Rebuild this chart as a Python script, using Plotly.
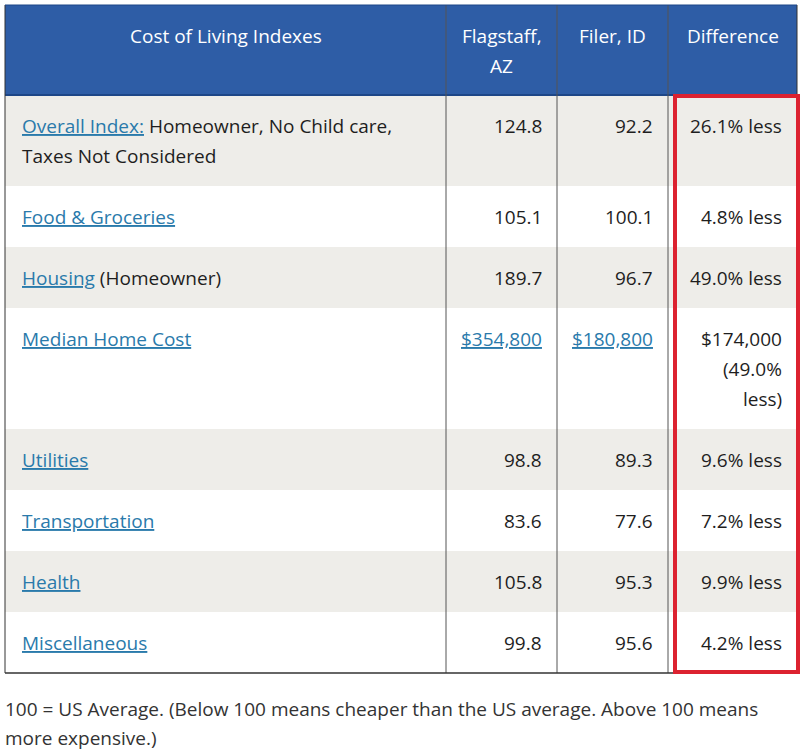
import plotly.graph_objects as go

# table content
headers = ["Cost of Living Indexes", "Flagstaff,<br>AZ", "Filer, ID", "Difference"]
categories = ["Overall Index:", "Food & Groceries", "Housing", "Median Home Cost",
              "Utilities", "Transportation", "Health", "Miscellaneous"]
notes = [" Homeowner, No Child care,<br>Taxes Not Considered", "", " (Homeowner)", "",
         "", "", "", ""]
flagstaff = ["124.8", "105.1", "189.7", "$354,800", "98.8", "83.6", "105.8", "99.8"]
filer = ["92.2", "100.1", "96.7", "$180,800", "89.3", "77.6", "95.3", "95.6"]
difference = ["26.1% less", "4.8% less", "49.0% less", "$174,000<br>(49.0%<br>less)",
              "9.6% less", "7.2% less", "9.9% less", "4.2% less"]
value_links = [False, False, False, True, False, False, False, False]
footnote = ["100 = US Average. (Below 100 means cheaper than the US average. Above 100 means",
            "more expensive.)"]

# styling
W, H = 805, 751
FONT = "Open Sans"
FS = 19
LINE_H = 30
TOP_OFF = 31
col_widths = [441, 111, 111, 129]
left0, top0 = 5, 5
PAD_L, PAD_R = 15, 13
HEAD_BG = "#2e5da6"
GREY_BG = "#eeede9"
LINK = "#2a7aab"
TEXT = "#1e1e1e"
GRID = "#555555"
RED = "#dc2230"

col_edges = [left0]
for w in col_widths:
    col_edges.append(col_edges[-1] + w)

fig = go.Figure()
shapes = []
annos = []


def link(s):
    return f"<span style='color:{LINK}'><u>{s}</u></span>"


def add_line(txt, col, y, align, color=TEXT):
    if align == "left":
        x, anchor = col_edges[col] + PAD_L, "left"
    elif align == "right":
        x, anchor = col_edges[col + 1] - PAD_R, "right"
    else:
        x, anchor = (col_edges[col] + col_edges[col + 1]) / 2, "center"
    annos.append(dict(x=x, y=y, xref="x", yref="y", text=txt, showarrow=False,
                      xanchor=anchor, yanchor="middle",
                      font=dict(family=FONT, size=FS, color=color)))


# header
head_lines = [h.split("<br>") for h in headers]
head_h = max(len(l) for l in head_lines) * LINE_H + 30
shapes.append(dict(type="rect", x0=col_edges[0], x1=col_edges[-1], y0=top0, y1=top0 + head_h,
                   fillcolor=HEAD_BG, line=dict(width=0), layer="below"))
for c, lines in enumerate(head_lines):
    for i, t in enumerate(lines):
        add_line(t, c, top0 + TOP_OFF + i * LINE_H, "center", "white")

# body
y = top0 + head_h
for r in range(len(categories)):
    first = (categories[r] + notes[r]).split("<br>")
    cells = [first, flagstaff[r].split("<br>"), filer[r].split("<br>"), difference[r].split("<br>")]
    n = max(len(c) for c in cells)
    rh = n * LINE_H + 31
    shapes.append(dict(type="rect", x0=col_edges[0], x1=col_edges[-1], y0=y, y1=y + rh,
                       fillcolor=GREY_BG if r % 2 == 0 else "white",
                       line=dict(width=0), layer="below"))
    for i, t in enumerate(first):
        if i == 0:
            t = link(categories[r]) + t[len(categories[r]):]
        add_line(t, 0, y + TOP_OFF + i * LINE_H, "left")
    for c in (1, 2):
        for i, t in enumerate(cells[c]):
            add_line(link(t) if value_links[r] else t, c, y + TOP_OFF + i * LINE_H, "right")
    for i, t in enumerate(cells[3]):
        add_line(t, 3, y + TOP_OFF + i * LINE_H, "right")
    y += rh
bottom = y

# grid lines
shapes.append(dict(type="line", x0=col_edges[0], x1=col_edges[-1], y0=top0 + head_h, y1=top0 + head_h,
                   line=dict(color="#1d4687", width=2)))
for i, xe in enumerate(col_edges):
    shapes.append(dict(type="line", x0=xe, x1=xe, y0=top0, y1=bottom,
                       line=dict(color="#333333" if i in (0, len(col_edges) - 1) else GRID, width=1)))
shapes.append(dict(type="line", x0=col_edges[0], x1=col_edges[-1], y0=top0, y1=top0,
                   line=dict(color="#1d4687", width=1)))
shapes.append(dict(type="line", x0=col_edges[0], x1=col_edges[-1], y0=bottom, y1=bottom,
                   line=dict(color="#333333", width=1.5)))

# red highlight around the difference column
shapes.append(dict(type="rect", x0=col_edges[3] + 7, x1=col_edges[4] + 1, y0=top0 + head_h + 1, y1=bottom - 1,
                   line=dict(color=RED, width=4), fillcolor="rgba(0,0,0,0)"))

# footnote
for i, t in enumerate(footnote):
    annos.append(dict(x=left0 - 2, y=bottom + 36 + i * 29, xref="x", yref="y", text=t, showarrow=False,
                      xanchor="left", yanchor="middle",
                      font=dict(family=FONT, size=FS, color="#333333")))

fig.update_layout(
    width=W, height=H,
    margin=dict(l=0, r=0, t=0, b=0),
    paper_bgcolor="white", plot_bgcolor="white",
    xaxis=dict(range=[0, W], visible=False, fixedrange=True),
    yaxis=dict(range=[H, 0], visible=False, fixedrange=True),
    shapes=shapes, annotations=annos, showlegend=False,
)

fig.write_html("out.html", config={"displayModeBar": False},
               post_script="document.body.style.margin='0px';")
